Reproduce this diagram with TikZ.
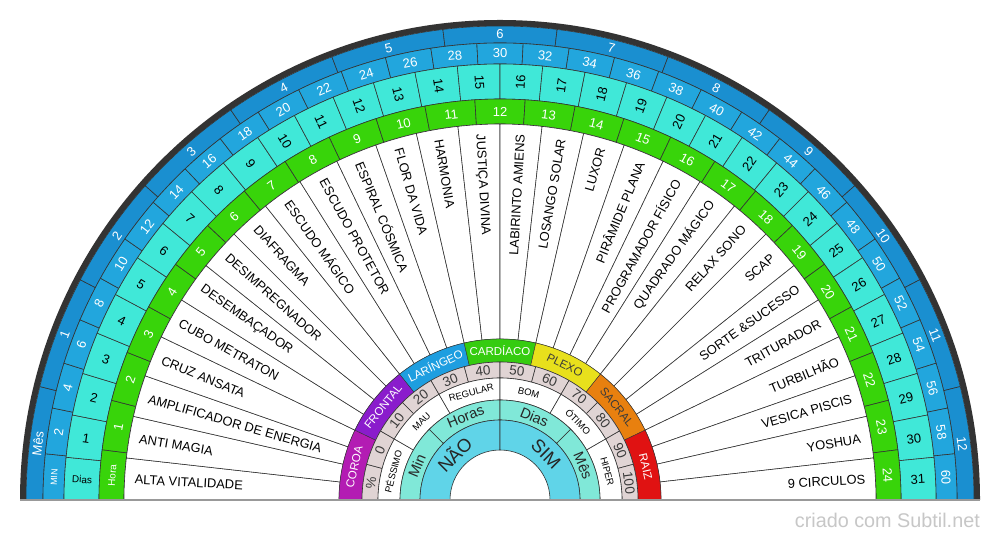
\documentclass[tikz,border=0pt]{standalone}
\usepackage{fontspec}
\setmainfont{Liberation Sans}
\usetikzlibrary{calc}

\definecolor{rimgray}{HTML}{333333}
\definecolor{mesblue}{HTML}{1A8FD0}
\definecolor{minblue}{HTML}{22A6DD}
\definecolor{diasteal}{HTML}{40E8D8}
\definecolor{horagreen}{HTML}{38D40A}
\definecolor{pctpink}{HTML}{E0D4D4}
\definecolor{innerteal}{HTML}{80E8D8}
\definecolor{innerblue}{HTML}{60D4E8}
\definecolor{coroa}{HTML}{B31CB3}
\definecolor{frontal}{HTML}{8A1CCC}
\definecolor{laringeo}{HTML}{1E9EE0}
\definecolor{cardiaco}{HTML}{35CC10}
\definecolor{plexo}{HTML}{E8E01C}
\definecolor{sacral}{HTML}{E8800F}
\definecolor{raiz}{HTML}{E01212}
\definecolor{darktext}{HTML}{3A3A3A}

\tikzset{
  cell/.style={draw=rimgray, line width=0.6pt},
  numw/.style={inner sep=0pt, text=white, font=\fontsize{13}{13}\selectfont},
  numk/.style={inner sep=0pt, text=black, font=\fontsize{13}{13}\selectfont},
  tinyw/.style={inner sep=0pt, text=white, font=\fontsize{9}{9}\selectfont},
  tinyk/.style={inner sep=0pt, text=black, font=\fontsize{10}{10}\selectfont},
  band/.style={inner sep=0pt, text=black, font=\fontsize{12.9}{12.9}\selectfont},
  chak/.style={inner sep=0pt, font=\fontsize{11.5}{11.5}\selectfont},
  pct/.style={inner sep=0pt, text=darktext, font=\fontsize{13.5}{13.5}\selectfont},
  qual/.style={inner sep=0pt, text=black, font=\fontsize{9.5}{9.5}\selectfont},
  inner/.style={inner sep=0pt, text=black!85, font=\fontsize{14.5}{14.5}\selectfont},
  yesno/.style={inner sep=0pt, text=black!85, font=\fontsize{18.5}{18.5}\selectfont},
  floorline/.style={draw=black!40, line width=1.2pt},
  credit/.style={inner sep=0pt, text=black!22, font=\fontsize{19.8}{19.8}\selectfont}
}

% ring segment: inner r, outer r, start angle, end angle, style
\newcommand{\ringseg}[5]{%
  \path[#5] (#3:#1pt) arc[start angle=#3, end angle=#4, radius=#1pt]
    -- (#4:#2pt) arc[start angle=#4, end angle=#3, radius=#2pt] -- cycle;}

\begin{document}
\begin{tikzpicture}[x=1pt, y=1pt]
\useasboundingbox (0,0) rectangle (1000,540);
\fill[white] (0,0) rectangle (1000,540);
\begin{scope}[shift={(500,40)}]
  \ringseg{474}{480}{180}{0}{fill=rimgray}
  % months
  \foreach \n in {0,...,12}{
    \pgfmathsetmacro{\aa}{180-\n*180/13}
    \pgfmathsetmacro{\ab}{180-(\n+1)*180/13}
    \pgfmathsetmacro{\am}{(\aa+\ab)/2}
    \ringseg{457}{474}{\aa}{\ab}{cell, fill=mesblue}
    \node[numw, rotate=\am-90] (mes\n) at (\am:465.5pt) {\ifnum\n=0 Mês\else\n\fi};
  }
  % minutes
  \foreach \n in {0,...,30}{
    \pgfmathsetmacro{\aa}{180-\n*180/31}
    \pgfmathsetmacro{\ab}{180-(\n+1)*180/31}
    \pgfmathsetmacro{\am}{(\aa+\ab)/2}
    \pgfmathtruncatemacro{\val}{2*\n}
    \ringseg{436}{457}{\aa}{\ab}{cell, fill=minblue}
    \ifnum\n=0
      \node[tinyw, rotate=\am-90] (min\n) at (\am:446.5pt) {MIN};
    \else
      \node[numw, rotate=\am-90] (min\n) at (\am:446.5pt) {\val};
    \fi
  }
  % days
  \foreach \n in {0,...,31}{
    \pgfmathsetmacro{\aa}{180-\n*180/32}
    \pgfmathsetmacro{\ab}{180-(\n+1)*180/32}
    \pgfmathsetmacro{\am}{(\aa+\ab)/2}
    \pgfmathsetmacro{\rot}{\am>90 ? \am-180 : \am}
    \ringseg{401}{436}{\aa}{\ab}{cell, fill=diasteal}
    \ifnum\n=0
      \node[tinyk, rotate=\rot] (dia\n) at (\am:418.5pt) {Dias};
    \else
      \node[numk, rotate=\rot] (dia\n) at (\am:418.5pt) {\n};
    \fi
  }
  % hours
  \foreach \n in {0,...,24}{
    \pgfmathsetmacro{\aa}{180-\n*180/25}
    \pgfmathsetmacro{\ab}{180-(\n+1)*180/25}
    \pgfmathsetmacro{\am}{(\aa+\ab)/2}
    \ringseg{376}{401}{\aa}{\ab}{cell, fill=horagreen}
    \ifnum\n=0
      \node[tinyw, font=\fontsize{10}{10}\selectfont, rotate=\am-90] (hor\n) at (\am:388.5pt) {Hora};
    \else
      \node[numw, rotate=\am-90] (hor\n) at (\am:388.5pt) {\n};
    \fi
  }
  % remedies
  \foreach \lab [count=\n from 0] in {ALTA VITALIDADE,ANTI MAGIA,AMPLIFICADOR DE ENERGIA,
      CRUZ ANSATA,CUBO METRATON,DESEMBAÇADOR,DESIMPREGNADOR,DIAFRAGMA,ESCUDO MÁGICO,
      ESCUDO PROTETOR,ESPIRAL CÓSMICA,FLOR DA VIDA,HARMONIA,JUSTIÇA DIVINA,
      LABIRINTO AMIENS,LOSANGO SOLAR,LUXOR,PIRÂMIDE PLANA,PROGRAMADOR FÍSICO,
      QUADRADO MÁGICO,RELAX SONO,SCAP,SORTE \&SUCESSO,TRITURADOR,TURBILHÃO,
      VESICA PISCIS,YOSHUA,9 CIRCULOS}{
    \pgfmathsetmacro{\aa}{180-\n*180/28}
    \pgfmathsetmacro{\ab}{180-(\n+1)*180/28}
    \pgfmathsetmacro{\am}{(\aa+\ab)/2}
    \ringseg{161}{376}{\aa}{\ab}{cell, fill=white}
    \ifdim\am pt>90pt
      \node[band, rotate=\am-180, anchor=west] (lab\n) at (\am:366pt) {\lab};
    \else
      \node[band, rotate=\am, anchor=east] (lab\n) at (\am:366pt) {\lab};
    \fi
  }
  % chakras
  \foreach \lab/\col/\tcol [count=\n from 0] in {COROA/coroa/white,FRONTAL/frontal/white,
      LARÍNGEO/laringeo/white,CARDÍACO/cardiaco/white,PLEXO/plexo/darktext,
      SACRAL/sacral/darktext,RAIZ/raiz/white}{
    \pgfmathsetmacro{\aa}{180-\n*180/7}
    \pgfmathsetmacro{\ab}{180-(\n+1)*180/7}
    \pgfmathsetmacro{\am}{(\aa+\ab)/2}
    \ringseg{138}{161}{\aa}{\ab}{draw=rimgray, line width=0.4pt, fill=\col}
    \node[chak, text=\tcol, rotate=\am-90] (chk\n) at (\am:149.5pt) {\lab};
  }
  % percent
  \foreach \n in {0,...,11}{
    \pgfmathsetmacro{\aa}{180-\n*15}
    \pgfmathsetmacro{\ab}{180-(\n+1)*15}
    \pgfmathsetmacro{\am}{(\aa+\ab)/2}
    \pgfmathtruncatemacro{\val}{(\n-1)*10}
    \ringseg{122}{138}{\aa}{\ab}{cell, fill=pctpink}
    \node[pct, rotate=\am-90] (pct\n) at (\am:130pt) {\ifnum\n=0 \%\else\val\fi};
  }
  % quality
  \foreach \lab [count=\n from 0] in {PÉSSIMO,MAU,REGULAR,BOM,ÓTIMO,HIPER}{
    \pgfmathsetmacro{\aa}{180-\n*30}
    \pgfmathsetmacro{\ab}{180-(\n+1)*30}
    \pgfmathsetmacro{\am}{(\aa+\ab)/2}
    \ringseg{100}{122}{\aa}{\ab}{cell, fill=white}
    \node[qual, rotate=\am-90] (qua\n) at (\am:111pt) {\lab};
  }
  % time units
  \foreach \lab [count=\n from 0] in {Min,Horas,Dias,Mês}{
    \pgfmathsetmacro{\aa}{180-\n*45}
    \pgfmathsetmacro{\ab}{180-(\n+1)*45}
    \pgfmathsetmacro{\am}{(\aa+\ab)/2}
    \ringseg{80}{100}{\aa}{\ab}{cell, fill=innerteal}
    \node[inner, rotate=\am-90] (tim\n) at (\am:90pt) {\lab};
  }
  % yes / no
  \foreach \lab [count=\n from 0] in {NÃO,SIM}{
    \pgfmathsetmacro{\aa}{180-\n*90}
    \pgfmathsetmacro{\ab}{180-(\n+1)*90}
    \pgfmathsetmacro{\am}{(\aa+\ab)/2}
    \ringseg{50}{80}{\aa}{\ab}{cell, fill=innerblue}
    \node[yesno, rotate=\am-90] (ans\n) at (\am:65pt) {\lab};
  }
  \coordinate (floorL) at (-480,0);
  \coordinate (floorR) at (480,0);
  \draw[floorline] (floorL) -- (floorR);
\end{scope}
\node[credit, anchor=east] (credit) at (980,20) {criado com Subtil.net};
\end{tikzpicture}
\end{document}
